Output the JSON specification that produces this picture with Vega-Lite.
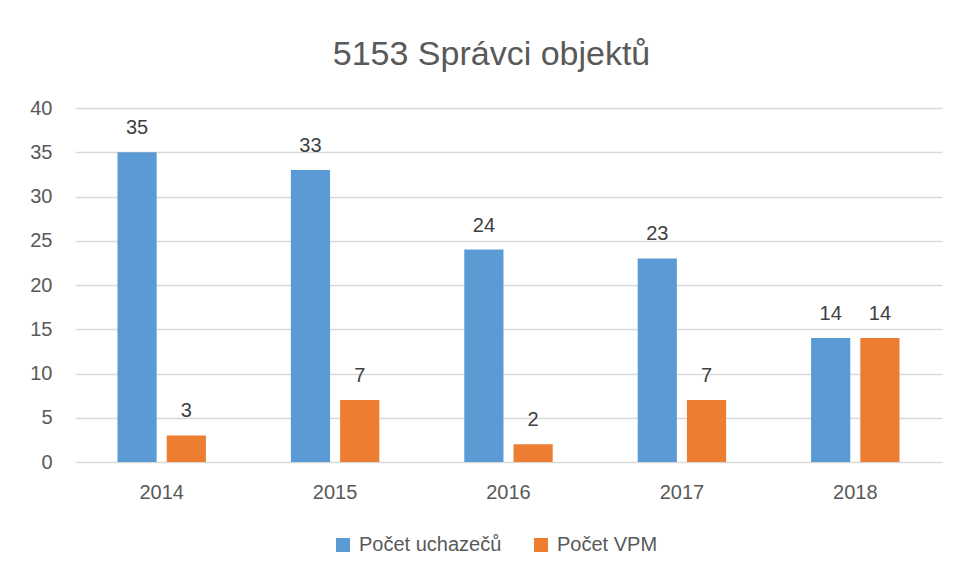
{
  "$schema": "https://vega.github.io/schema/vega-lite/v6.json",
  "autosize": {"type": "none"},
  "width": 867,
  "height": 354,
  "padding": {"left": 75, "top": 108, "right": 15, "bottom": 119},
  "background": "white",
  "title": {
    "text": "5153 Správci objektů",
    "font": "Liberation Sans",
    "fontSize": 34,
    "fontWeight": "normal",
    "color": "#595959",
    "anchor": "middle",
    "dx": -17,
    "offset": 26
  },
  "data": {
    "values": [
      {"rok": "2014", "serie": "Počet uchazečů", "hodnota": 35},
      {"rok": "2014", "serie": "Počet VPM", "hodnota": 3},
      {"rok": "2015", "serie": "Počet uchazečů", "hodnota": 33},
      {"rok": "2015", "serie": "Počet VPM", "hodnota": 7},
      {"rok": "2016", "serie": "Počet uchazečů", "hodnota": 24},
      {"rok": "2016", "serie": "Počet VPM", "hodnota": 2},
      {"rok": "2017", "serie": "Počet uchazečů", "hodnota": 23},
      {"rok": "2017", "serie": "Počet VPM", "hodnota": 7},
      {"rok": "2018", "serie": "Počet uchazečů", "hodnota": 14},
      {"rok": "2018", "serie": "Počet VPM", "hodnota": 14}
    ]
  },
  "encoding": {
    "x": {
      "field": "rok",
      "type": "nominal",
      "scale": {"paddingInner": 0.49, "paddingOuter": 0.245},
      "axis": {
        "title": null,
        "labelAngle": 0,
        "ticks": false,
        "domain": false,
        "labelPadding": 20,
        "labelFont": "Liberation Sans",
        "labelFontSize": 20,
        "labelColor": "#595959"
      }
    },
    "xOffset": {
      "field": "serie",
      "type": "nominal",
      "scale": {"domain": ["Počet uchazečů", "Počet VPM"], "paddingInner": 0.204, "paddingOuter": 0}
    },
    "y": {
      "field": "hodnota",
      "type": "quantitative",
      "scale": {"domain": [0, 40]},
      "axis": {
        "title": null,
        "values": [0, 5, 10, 15, 20, 25, 30, 35, 40],
        "ticks": false,
        "domain": false,
        "labelPadding": 23,
        "labelFont": "Liberation Sans",
        "labelFontSize": 20,
        "labelColor": "#595959",
        "gridColor": "#d9d9d9",
        "gridWidth": 1.3
      }
    },
    "color": {
      "field": "serie",
      "type": "nominal",
      "scale": {"domain": ["Počet uchazečů", "Počet VPM"], "range": ["#5B9BD5", "#ED7D31"]},
      "legend": {
        "title": null,
        "orient": "none",
        "direction": "horizontal",
        "legendX": 258,
        "legendY": 427,
        "symbolType": "square",
        "symbolSize": 196,
        "symbolStrokeWidth": 0,
        "labelFont": "Liberation Sans",
        "labelFontSize": 20,
        "labelColor": "#595959",
        "labelOffset": 6,
        "columnPadding": 29
      }
    }
  },
  "layer": [
    {"mark": {"type": "bar"}},
    {
      "mark": {
        "type": "text",
        "baseline": "alphabetic",
        "dy": -18,
        "font": "Liberation Sans",
        "fontSize": 20,
        "color": "#404040"
      },
      "encoding": {
        "text": {"field": "hodnota", "type": "quantitative"},
        "color": {"value": "#404040"}
      }
    }
  ],
  "config": {
    "view": {"stroke": null}
  }
}
